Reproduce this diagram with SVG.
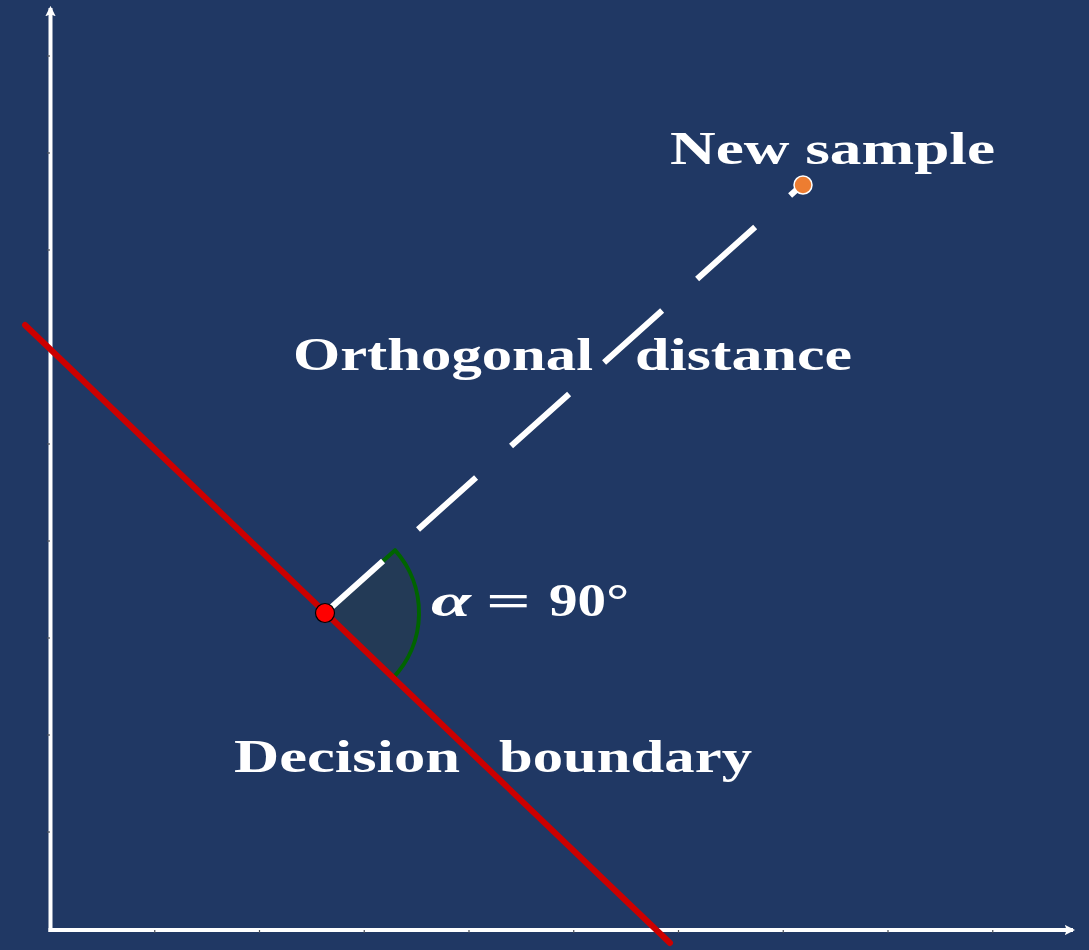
<svg xmlns="http://www.w3.org/2000/svg" width="1089" height="950" viewBox="0 0 1089 950">
  <defs>
    <style>
      .axis { stroke: #ffffff; stroke-width: 4; fill: none; }
      .tick { stroke: #4a4f5a; stroke-width: 1.2; }
      .lbl { font-family: "Liberation Serif", "DejaVu Serif", serif; font-weight: bold; fill: #ffffff; font-size: 47px; }
    </style>
    <marker id="arr" viewBox="0 0 10 10" refX="8" refY="5" markerWidth="2.6" markerHeight="2.6" orient="auto" markerUnits="strokeWidth">
      <path d="M0,0 L10,5 L0,10 L2,5 Z" fill="#ffffff"/>
    </marker>
  </defs>
  <rect x="0" y="0" width="1089" height="950" fill="#203864"/>

  <g id="axes">
    <line class="axis" x1="50.5" y1="932" x2="50.5" y2="8" marker-end="url(#arr)"/>
    <line class="axis" x1="48.5" y1="930" x2="1073" y2="930" marker-end="url(#arr)"/>
    <g class="ticks">
      <line class="tick" x1="154.75" y1="930" x2="154.75" y2="933"/>
      <line class="tick" x1="259.5" y1="930" x2="259.5" y2="933"/>
      <line class="tick" x1="364.25" y1="930" x2="364.25" y2="933"/>
      <line class="tick" x1="469" y1="930" x2="469" y2="933"/>
      <line class="tick" x1="573.75" y1="930" x2="573.75" y2="933"/>
      <line class="tick" x1="678.5" y1="930" x2="678.5" y2="933"/>
      <line class="tick" x1="783.25" y1="930" x2="783.25" y2="933"/>
      <line class="tick" x1="888" y1="930" x2="888" y2="933"/>
      <line class="tick" x1="992.75" y1="930" x2="992.75" y2="933"/>
      <line class="tick" x1="47" y1="56" x2="50" y2="56"/>
      <line class="tick" x1="47" y1="153" x2="50" y2="153"/>
      <line class="tick" x1="47" y1="250" x2="50" y2="250"/>
      <line class="tick" x1="47" y1="347" x2="50" y2="347"/>
      <line class="tick" x1="47" y1="444" x2="50" y2="444"/>
      <line class="tick" x1="47" y1="541" x2="50" y2="541"/>
      <line class="tick" x1="47" y1="638" x2="50" y2="638"/>
      <line class="tick" x1="47" y1="735" x2="50" y2="735"/>
      <line class="tick" x1="47" y1="832" x2="50" y2="832"/>
    </g>
  </g>

  <g id="angle">
    <path d="M325,613 L395,550.2 A94,94 0 0 1 392.8,678.1 Z" fill="#233a56" stroke="#006400" stroke-width="4" stroke-linejoin="round"/>
  </g>

  <g id="connectors">
    <line id="decision-boundary-line" x1="25" y1="325" x2="670" y2="943" stroke="#cc0000" stroke-width="6" stroke-linecap="round"/>
    <line id="orthogonal-distance-line" x1="325" y1="613" x2="803" y2="184" stroke="#ffffff" stroke-width="6" stroke-dasharray="78 47"/>
  </g>

  <g id="boundary-point">
    <circle cx="325" cy="613" r="9.5" fill="#ff0000" stroke="#000000" stroke-width="1.2"/>
  </g>
  <g id="new-sample">
    <circle cx="803" cy="185" r="9" fill="#ed7d31" stroke="#ffffff" stroke-width="1.5"/>
    <text class="lbl" x="670" y="164" textLength="325" lengthAdjust="spacingAndGlyphs">New sample</text>
  </g>
  <g id="label-orthogonal">
    <text class="lbl" y="370"><tspan x="293" textLength="300" lengthAdjust="spacingAndGlyphs">Orthogonal</tspan><tspan x="635" textLength="217" lengthAdjust="spacingAndGlyphs">distance</tspan></text>
  </g>
  <g id="label-angle">
    <text class="lbl" y="616"><tspan x="431" font-style="italic" textLength="40" lengthAdjust="spacingAndGlyphs">α</tspan><tspan x="486" textLength="45" lengthAdjust="spacingAndGlyphs">=</tspan><tspan x="549" textLength="80" lengthAdjust="spacingAndGlyphs">90°</tspan></text>
  </g>
  <g id="label-decision">
    <text class="lbl" y="772"><tspan x="234" textLength="226" lengthAdjust="spacingAndGlyphs">Decision</tspan><tspan x="499" textLength="253" lengthAdjust="spacingAndGlyphs">boundary</tspan></text>
  </g>
</svg>
